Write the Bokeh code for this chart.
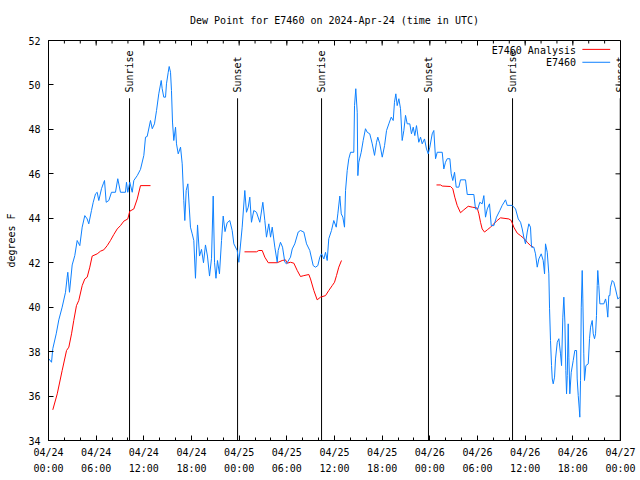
import math
from bokeh.plotting import figure
from bokeh.models import Range1d, FixedTicker, Label
from bokeh.core.properties import value
from bokeh.embed import file_html
from bokeh.resources import INLINE

NAN = float("nan")

# ---- data (hours since 2024-04-24 00:00 UTC, dew point in deg F) ----
obs_hours = [0.04, 0.38, 0.54, 0.97, 1.30, 1.72, 2.14, 2.35, 2.43, 2.64, 2.98, 3.31, 3.61, 3.94,
             4.24, 4.57, 4.87, 5.07, 5.41, 5.63, 5.92, 6.13, 6.33, 6.67, 6.89, 7.05, 7.26, 7.59,
             7.93, 8.43, 8.72, 9.06, 9.69, 9.82, 9.98, 10.23, 10.54, 10.74, 11.17, 11.58, 12.0,
             12.21, 12.42, 12.84, 13.06, 13.34, 13.6, 13.88, 14.19, 14.31, 14.51, 14.73, 14.85,
             15.07, 15.19, 15.36, 15.48, 15.61, 15.77, 15.99, 16.11, 16.33, 16.62, 16.83, 17.03,
             17.16, 17.33, 17.54, 17.87, 18.09, 18.29, 18.5, 18.76, 19.01, 19.26, 19.51, 19.76,
             20.01, 20.27, 20.52, 20.73, 20.9, 21.08, 21.27, 21.52, 21.78, 21.99, 22.22, 22.49,
             22.82, 23.12, 23.33, 23.75, 23.96, 24.38, 24.71, 24.92, 25.14, 25.34, 25.55, 25.84,
             26.18, 26.6, 26.98, 27.23, 27.44, 27.73, 27.95, 28.16, 28.49, 28.79, 28.91, 29.2,
             29.46, 29.75, 29.96, 30.46, 30.68, 31.0, 31.43, 31.72, 32.14, 32.48, 32.89, 33.32,
             33.61, 33.9, 34.15, 34.37, 34.66, 34.87, 35.08, 35.28, 35.62, 35.91, 36.22, 36.42,
             36.67, 36.85, 37.05, 37.26, 37.39, 37.6, 37.8, 38.02, 38.43, 38.52, 38.68, 38.86,
             38.94, 39.06, 39.36, 39.61, 39.9, 40.12, 40.44, 40.75, 41.04, 41.29, 41.45, 41.7,
             42.01, 42.3, 42.55, 42.84, 43.14, 43.39, 43.55, 43.72, 43.89, 44.1, 44.31, 44.52,
             44.73, 44.94, 45.15, 45.48, 45.69, 45.91, 46.11, 46.32, 46.61, 46.83, 47.04, 47.33,
             47.58, 47.8, 48.0, 48.3, 48.5, 48.72, 48.93, 49.56, 49.76, 49.97, 50.19, 50.52,
             50.69, 50.89, 51.11, 51.32, 51.65, 51.86, 52.49, 52.71, 53.54, 53.75, 54.04, 54.29,
             54.59, 54.8, 55.01, 55.23, 55.51, 55.73, 56.06, 56.39, 56.81, 57.11, 57.53, 57.74,
             58.37, 58.79, 59.13, 59.42, 59.63, 59.83, 60.04, 60.26, 60.46, 60.67, 60.8, 61.09,
             61.3, 61.52, 61.72, 62.02, 62.27, 62.44, 62.56, 62.78, 62.98, 63.07, 63.19, 63.32,
             63.41, 63.53, 63.7, 63.82, 64.04, 64.24, 64.45, 64.58, 64.74, 64.87, 65.0, 65.12,
             65.21, 65.3, 65.42, 65.5, 65.62, 65.8, 66.05, 66.25, 66.47, 66.55, 66.68, 66.81,
             66.88, 66.97, 67.06, 67.18, 67.26, 67.38, 67.47, 67.64, 67.94, 68.1, 68.23, 68.44,
             68.57, 68.73, 68.86, 68.98, 69.07, 69.14, 69.27, 69.4, 69.9, 70.12, 70.24, 70.4,
             70.53, 70.66, 70.74, 70.96, 71.16, 71.37, 71.66, 71.91]
obs_dewpt = [37.68, 37.52, 38.13, 38.8, 39.43, 40.0, 40.67, 41.35, 41.57, 40.67, 41.9, 42.32, 43.0, 42.77,
             43.6, 44.12, 43.97, 43.75, 44.35, 44.72, 45.1, 45.17, 44.8, 45.33, 45.55, 45.7, 44.72, 44.8,
             45.17, 45.17, 45.78, 45.17, 45.17, 45.62, 45.17, 45.62, 45.17, 45.7, 45.92, 46.2, 46.83,
             47.65, 47.68, 48.4, 48.03, 48.25, 48.85, 49.6, 50.2, 49.83, 49.45, 49.45, 50.05,
             50.57, 50.83, 50.57, 49.75, 48.33, 47.5, 48.1, 47.35, 46.9, 47.2, 46.45, 44.8,
             43.9, 45.25, 45.55, 43.6, 43.3, 43.0, 41.3, 43.7, 42.3, 42.6, 42.0, 42.8,
             42.3, 41.4, 42.2, 45.0, 42.0, 41.3, 42.1, 41.5, 43.0, 44.1, 43.4, 43.8,
             43.9, 43.45, 42.85, 42.55, 42.02, 43.6, 45.25, 44.27, 44.5, 44.95, 43.82, 44.35,
             44.27, 43.82, 44.72, 43.9, 43.15, 43.75, 43.15, 43.6, 42.7, 42.02, 42.55, 42.92,
             42.7, 42.02, 41.95, 42.25, 42.62, 42.85, 43.38, 43.45, 43.38, 42.85, 42.55, 41.87,
             41.8, 41.87, 42.25, 42.4, 42.17, 42.47, 42.1, 43.08, 43.45, 43.9, 43.6, 44.2,
             45.0, 44.2, 44.05, 43.6, 45.25, 46.15, 46.68, 46.97, 46.97, 49.07, 49.83, 48.77,
             45.92, 46.52, 46.97, 47.5, 48.03, 47.87, 47.8, 47.35, 46.83, 47.42, 47.65, 47.35,
             46.75, 47.27, 47.95, 48.25, 48.55, 48.4, 49.22, 49.6, 49.07, 49.38, 48.93, 47.5,
             47.95, 48.63, 48.25, 48.25, 47.8, 48.1, 47.72, 48.17, 47.42, 47.65, 47.35, 47.57,
             47.12, 46.9, 47.2, 47.8, 47.95, 46.68, 46.97, 46.97, 46.22, 46.52, 46.68, 46.68,
             46.0, 45.7, 46.07, 45.4, 45.4, 45.73, 45.73, 45.07, 45.07, 44.42, 44.42, 44.72,
             44.65, 45.02, 44.05, 44.42, 44.65, 43.67, 43.67, 44.05, 44.35, 44.58, 44.83, 44.58,
             44.58, 44.42, 43.97, 43.82, 43.52, 43.15, 42.85, 43.38, 43.75, 43.6, 42.7, 42.7,
             42.4, 41.8, 42.17, 42.4, 42.1, 41.5, 42.85, 42.47, 41.5, 39.93, 38.5, 37.37,
             36.77, 36.55, 36.85, 37.67, 38.42, 38.58, 37.9, 37.37, 39.55, 40.45, 39.33, 37.15,
             36.1, 36.92, 39.25, 37.75, 36.1, 37.07, 37.6, 38.05, 38.05, 36.77, 36.02, 35.42,
             35.05, 36.7, 40.0, 41.65, 40.37, 37.9, 36.7, 37.37, 37.45, 38.58, 39.1, 39.4,
             38.8, 38.58, 38.8, 39.63, 40.97, 41.65, 40.97, 40.15, 40.15, 40.37, 40.15, 39.55,
             40.52, 40.52, 40.9, 41.2, 41.12, 40.82, 40.37, 40.45]

ana_hours = [0.54, 1.1, 1.72, 2.27, 2.56, 2.9, 3.18, 3.52, 3.81, 4.24, 4.57, 4.87, 5.2, 5.5,
             6.13, 6.55, 6.96, 7.39, 7.8, 8.22, 8.65, 9.06, 9.48, 9.98, 10.23, 10.74, 11.17,
             11.58, 12.84, NAN,
             24.67, 26.18, 26.47, 26.9, 27.23, 27.66, 28.79, 29.42, 29.83, 30.05, 30.46, 30.88,
             31.31, 31.72, 32.14, 32.77, 32.98, 33.4, 33.82, 34.24, 34.87, 35.28, 35.71, 36.0,
             36.25, 36.54, 36.88, NAN,
             48.84, 49.35, 49.56, 50.6, 50.89, 51.14, 51.44, 51.86, 52.28, 52.83, 53.34, 53.97,
             54.17, 54.38, 54.59, 54.88, 55.23, 55.64, 56.06, 56.48, 56.9, 57.95, 58.25, 58.57,
             59.0, 59.42, 59.92, 60.26, 60.67, 61.01]
ana_dewpt = [35.38, 36.1, 37.15, 38.05, 38.2, 38.8, 39.4, 40.07, 40.3, 40.97, 41.27, 41.35, 41.8, 42.3,
             42.4, 42.52, 42.58, 42.77, 43.0, 43.27, 43.52, 43.67, 43.87, 43.97, 44.32, 44.42, 44.87,
             45.47, 45.47, NAN,
             42.49, 42.49, 42.55, 42.55, 42.25, 42.0, 42.0, 42.1, 42.13, 41.98, 42.02, 41.98,
             41.65, 41.38, 41.42, 41.47, 41.27, 40.75, 40.33, 40.45, 40.52, 40.75, 40.97, 41.12,
             41.42, 41.8, 42.1, NAN,
             45.5, 45.5, 45.45, 45.43, 45.33, 44.95, 44.58, 44.25, 44.38, 44.54, 44.5, 44.46,
             44.2, 43.82, 43.52, 43.38, 43.48, 43.6, 43.75, 43.9, 44.02, 43.97, 43.9, 43.6,
             43.33, 43.22, 43.07, 42.92, 42.77, 42.7]

sun_hours = [10.2, 23.8, 34.37, 47.83, 58.41, 71.97]
sun_labels = ["Sunrise", "Sunset", "Sunrise", "Sunset", "Sunrise", "Sunset"]

xtick_hours = [0, 6, 12, 18, 24, 30, 36, 42, 48, 54, 60, 66, 72]
xtick_labels = ["04/24\n00:00", "04/24\n06:00", "04/24\n12:00", "04/24\n18:00",
                "04/25\n00:00", "04/25\n06:00", "04/25\n12:00", "04/25\n18:00",
                "04/26\n00:00", "04/26\n06:00", "04/26\n12:00", "04/26\n18:00",
                "04/27\n00:00"]
xminor_hours = list(range(0, 73, 2))
ytick_values = [34, 36, 38, 40, 42, 44, 46, 48, 50, 52]

legend_labels = ["E7460 Analysis", "E7460"]

# ---- styling ----
FONT = "DejaVu Sans Mono"
FS = "10px"
BLUE = "#0d80ff"
RED = "#ff0000"

p = figure(width=640, height=480, output_backend="svg", toolbar_location=None,
           x_range=Range1d(0, 72), y_range=Range1d(34, 52),
           min_border_left=48, min_border_right=20, min_border_top=40, min_border_bottom=40,
           title="Dew Point for E7460 on 2024-Apr-24 (time in UTC)")
p.title.text_font = FONT
p.title.text_font_size = FS
p.title.text_font_style = "normal"
p.title.align = "center"
p.title.vertical_align = "top"
p.title.standoff = 26
p.title.text_color = "black"

p.background_fill_color = "white"
p.border_fill_color = "white"
p.outline_line_color = "black"
p.outline_line_width = 1
p.xgrid.grid_line_color = None
p.ygrid.grid_line_color = None

xticker = FixedTicker(ticks=xtick_hours, minor_ticks=xminor_hours)
yticker = FixedTicker(ticks=ytick_values, minor_ticks=[])

xa = p.xaxis[0]
xa.ticker = xticker
xa.major_label_overrides = {h: lab for h, lab in zip(xtick_hours, xtick_labels)}
xa.major_label_text_font = FONT
xa.major_label_text_font_size = FS
xa.major_label_text_color = "black"
xa.major_label_text_line_height = 1.5
xa.major_label_standoff = 6
xa.axis_line_color = "black"
xa.major_tick_line_color = "black"
xa.minor_tick_line_color = "black"
xa.major_tick_in = 5
xa.major_tick_out = 0
xa.minor_tick_in = 3
xa.minor_tick_out = 0

ya = p.yaxis[0]
ya.ticker = yticker
ya.axis_label = "degrees F"
ya.axis_label_text_font = FONT
ya.axis_label_text_font_size = FS
ya.axis_label_text_font_style = "normal"
ya.axis_label_text_color = "black"
ya.axis_label_standoff = 8
ya.major_label_text_font = FONT
ya.major_label_text_font_size = FS
ya.major_label_text_color = "black"
ya.major_label_standoff = 8
ya.axis_line_color = "black"
ya.major_tick_line_color = "black"
ya.major_tick_in = 5
ya.major_tick_out = 0

# mirrored ticks on top and right border (gnuplot style)
p.ray(x=xtick_hours, y=[52] * len(xtick_hours), length=5, length_units="screen",
      angle=-math.pi / 2, line_color="black", line_width=1)
p.ray(x=xminor_hours, y=[52] * len(xminor_hours), length=3, length_units="screen",
      angle=-math.pi / 2, line_color="black", line_width=1)
p.ray(x=[72] * len(ytick_values), y=ytick_values, length=5, length_units="screen",
      angle=math.pi, line_color="black", line_width=1)

# sunrise / sunset markers
p.segment(x0=sun_hours, y0=[34] * len(sun_hours), x1=sun_hours, y1=[49.4] * len(sun_hours),
          line_color="black", line_width=1)
for h, lab in zip(sun_hours, sun_labels):
    p.add_layout(Label(x=h, y=49.66, text=lab, angle=math.pi / 2,
                       text_align="left", text_baseline="middle", text_font=FONT,
                       text_font_size=FS, text_color="black"))

# data lines
p.line(ana_hours, ana_dewpt, line_color=RED, line_width=1)
p.line(obs_hours, obs_dewpt, line_color=BLUE, line_width=1)

# gnuplot-style key (text left of sample line)
p.text(x=[66.4, 66.4], y=[51.57, 50.99], text=legend_labels, text_align="right",
       text_baseline="middle", text_font=value(FONT), text_font_size=FS, text_color="black")
p.segment(x0=[67.2, 67.2], y0=[51.6, 51.02], x1=[70.7, 70.7], y1=[51.6, 51.02],
          line_color=[RED, BLUE], line_width=1)

open("out.html", "w").write(file_html(p, INLINE))
